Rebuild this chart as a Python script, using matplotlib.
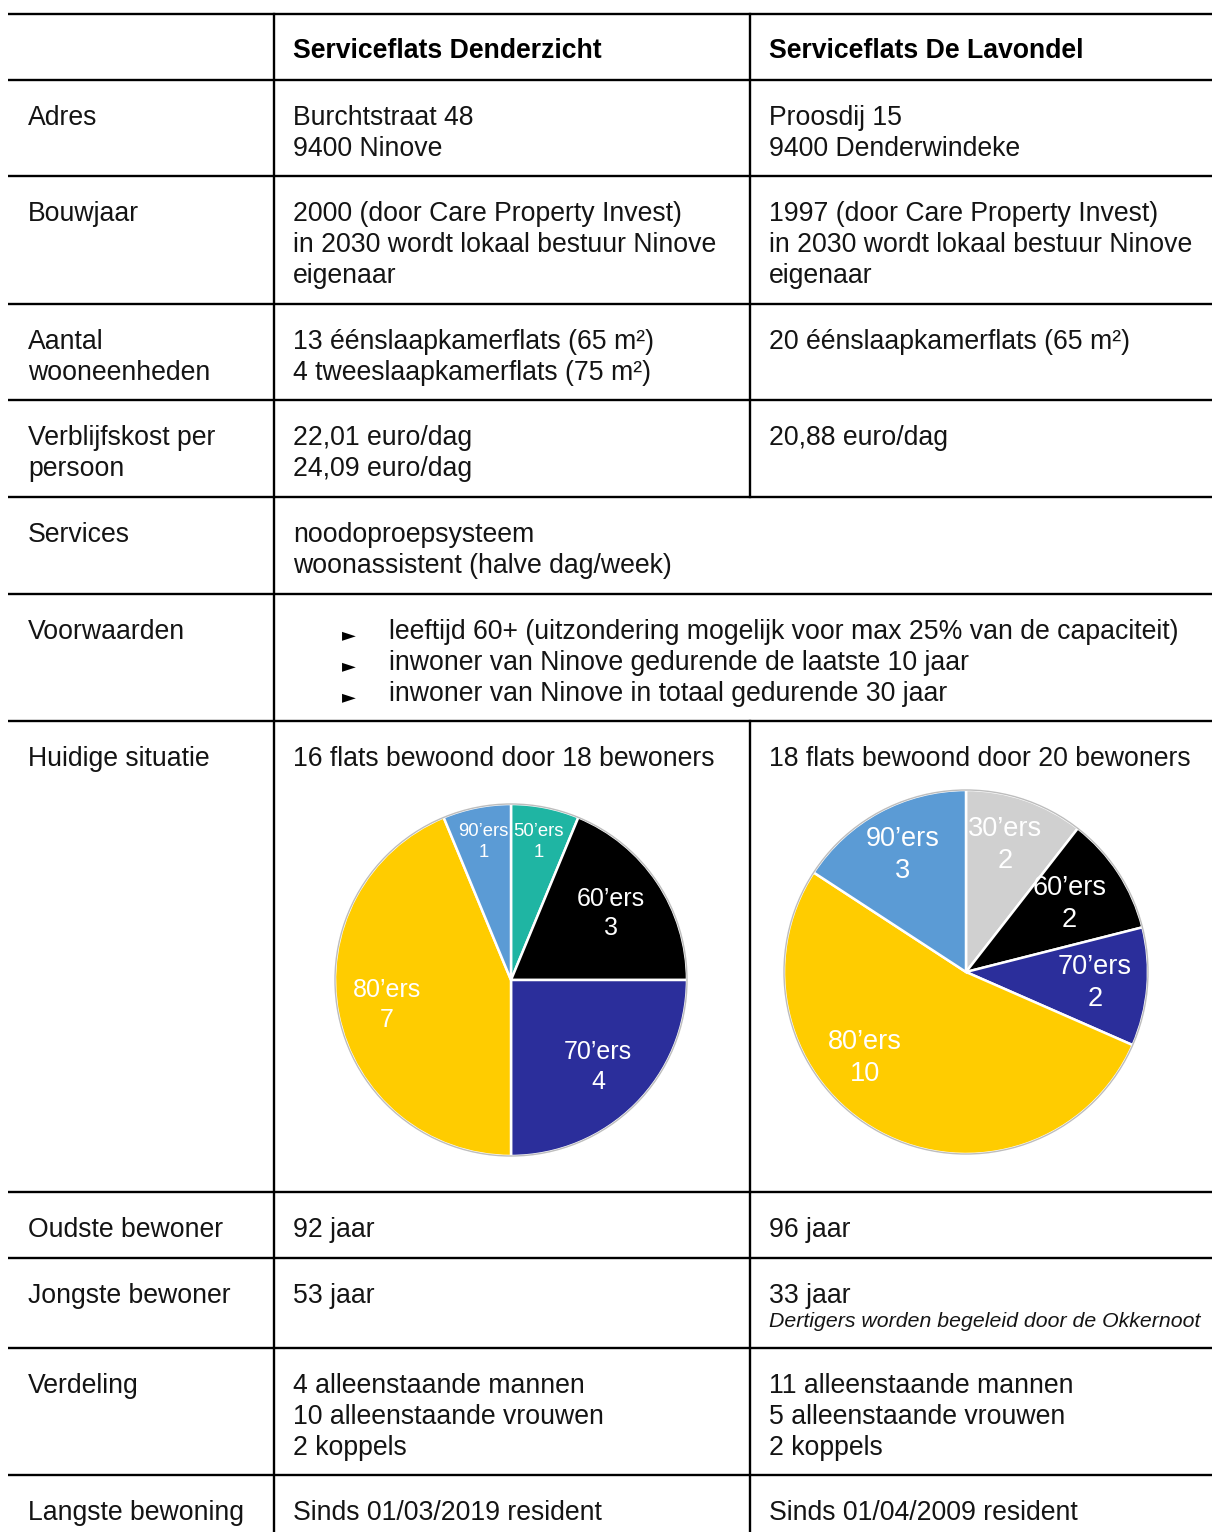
import matplotlib.pyplot as plt
from matplotlib.patches import Circle
import numpy as np

plt.rcParams['font.family'] = ['Liberation Sans', 'DejaVu Sans']

# ---- data ----
col_headers = ["Serviceflats Denderzicht", "Serviceflats De Lavondel"]

row_labels = [
    ["Adres"],
    ["Bouwjaar"],
    ["Aantal", "wooneenheden"],
    ["Verblijfskost per", "persoon"],
    ["Services"],
    ["Voorwaarden"],
    ["Huidige situatie"],
    ["Oudste bewoner"],
    ["Jongste bewoner"],
    ["Verdeling"],
    ["Langste bewoning"],
]

col1_text = [
    ["Burchtstraat 48", "9400 Ninove"],
    ["2000 (door Care Property Invest)", "in 2030 wordt lokaal bestuur Ninove", "eigenaar"],
    ["13 éénslaapkamerflats (65 m²)", "4 tweeslaapkamerflats (75 m²)"],
    ["22,01 euro/dag", "24,09 euro/dag"],
    ["noodoproepsysteem", "woonassistent (halve dag/week)"],
    [],
    ["16 flats bewoond door 18 bewoners"],
    ["92 jaar"],
    ["53 jaar"],
    ["4 alleenstaande mannen", "10 alleenstaande vrouwen", "2 koppels"],
    ["Sinds 01/03/2019 resident"],
]

col2_text = [
    ["Proosdij 15", "9400 Denderwindeke"],
    ["1997 (door Care Property Invest)", "in 2030 wordt lokaal bestuur Ninove", "eigenaar"],
    ["20 éénslaapkamerflats (65 m²)"],
    ["20,88 euro/dag"],
    [],
    [],
    ["18 flats bewoond door 20 bewoners"],
    ["96 jaar"],
    ["33 jaar"],
    ["11 alleenstaande mannen", "5 alleenstaande vrouwen", "2 koppels"],
    ["Sinds 01/04/2009 resident"],
]
col2_note = "Dertigers worden begeleid door de Okkernoot"

voorwaarden = [
    "leeftijd 60+ (uitzondering mogelijk voor max 25% van de capaciteit)",
    "inwoner van Ninove gedurende de laatste 10 jaar",
    "inwoner van Ninove in totaal gedurende 30 jaar",
]

pie1_labels = ["50’ers", "60’ers", "70’ers", "80’ers", "90’ers"]
pie1_values = [1, 3, 4, 7, 1]
pie2_labels = ["30’ers", "60’ers", "70’ers", "80’ers", "90’ers"]
pie2_values = [2, 2, 2, 10, 3]

decade_colors = {
    "30’ers": "#d0d0d0",
    "50’ers": "#1fb5a3",
    "60’ers": "#000000",
    "70’ers": "#2b2e9b",
    "80’ers": "#ffcc00",
    "90’ers": "#5b9bd5",
}

# ---- layout (pixels) ----
W, H = 1212, 1532
x_left, x_c1, x_c2, x_right = 8, 274, 750, 1212
row_lines = [14, 80, 176, 304, 400, 497, 594, 721, 1192, 1258, 1348, 1475]
merged_rows = [4, 5]  # Services, Voorwaarden span both columns
line_h = 31
fs = 19.2
txt_color = "#141414"

fig = plt.figure(figsize=(W / 100, H / 100), dpi=100)
ax = fig.add_axes([0, 0, 1, 1])
ax.set_xlim(0, W)
ax.set_ylim(H, 0)
ax.axis("off")

lw = 1.7
for y in row_lines:
    ax.plot([x_left, x_right], [y, y], color="black", lw=lw, solid_capstyle="butt")
ax.plot([x_c1, x_c1], [row_lines[0], H], color="black", lw=lw)
# second column divider, interrupted by merged rows
ax.plot([x_c2, x_c2], [row_lines[0], row_lines[merged_rows[0] + 1]], color="black", lw=lw)
ax.plot([x_c2, x_c2], [row_lines[merged_rows[-1] + 2], H], color="black", lw=lw)

# header
ax.text(x_c1 + 19, row_lines[0] + 44, col_headers[0], fontsize=fs, fontweight="bold",
        color="black", va="baseline")
ax.text(x_c2 + 19, row_lines[0] + 44, col_headers[1], fontsize=fs, fontweight="bold",
        color="black", va="baseline")


def put_lines(x, y0, lines, **kw):
    for k, s in enumerate(lines):
        ax.text(x, y0 + k * line_h, s, fontsize=fs, color=txt_color, va="baseline", **kw)


for i in range(len(row_labels)):
    base = row_lines[i + 1] + 45
    put_lines(x_left + 20, base, row_labels[i])
    put_lines(x_c1 + 19, base, col1_text[i])
    put_lines(x_c2 + 19, base, col2_text[i])

# note under "33 jaar"
ax.text(x_c2 + 19, row_lines[9] + 45 + 24, col2_note, fontsize=15.3, style="italic",
        color=txt_color, va="baseline")

# bullets in Voorwaarden row
vb = row_lines[6] + 45
for k, s in enumerate(voorwaarden):
    ax.text(342, vb + k * line_h + 1, "►", fontsize=13, color="black", va="baseline",
            family="DejaVu Sans")
    ax.text(389, vb + k * line_h, s, fontsize=fs, color=txt_color, va="baseline")


def draw_pie(cx, cy, r, values, labels, rfrac, dang, label_fs):
    m = 1.01
    pax = fig.add_axes([(cx - m * r) / W, (H - cy - m * r) / H, 2 * m * r / W, 2 * m * r / H])
    wedges, _ = pax.pie(values, startangle=90, counterclock=False, radius=1,
                        colors=[decade_colors[l] for l in labels],
                        wedgeprops=dict(edgecolor="white", linewidth=1.8))
    pax.add_patch(Circle((0, 0), 1.0, fill=False, edgecolor="#bdbdbd", lw=1.0))
    pax.set_xlim(-m, m)
    pax.set_ylim(-m, m)
    pax.set_aspect("equal")
    pax.axis("off")
    for w, lab, v, rf, da, f in zip(wedges, labels, values, rfrac, dang, label_fs):
        ang = np.deg2rad((w.theta1 + w.theta2) / 2 + da)
        pax.text(rf * np.cos(ang), rf * np.sin(ang), f"{lab}\n{v}", ha="center", va="center",
                 color="white", fontsize=f, linespacing=1.3)


draw_pie(511, 980, 176, pie1_values, pie1_labels,
         rfrac=[0.80, 0.68, 0.70, 0.72, 0.80], dang=[0, 0, 0, 0, 0],
         label_fs=[13.3, 18, 18, 18, 13.3])
draw_pie(966, 972, 182, pie2_values, pie2_labels,
         rfrac=[0.73, 0.68, 0.71, 0.73, 0.73], dang=[2, 0, 0, -21, 0],
         label_fs=[19.5] * 5)

fig.savefig("out.png", dpi=100)
